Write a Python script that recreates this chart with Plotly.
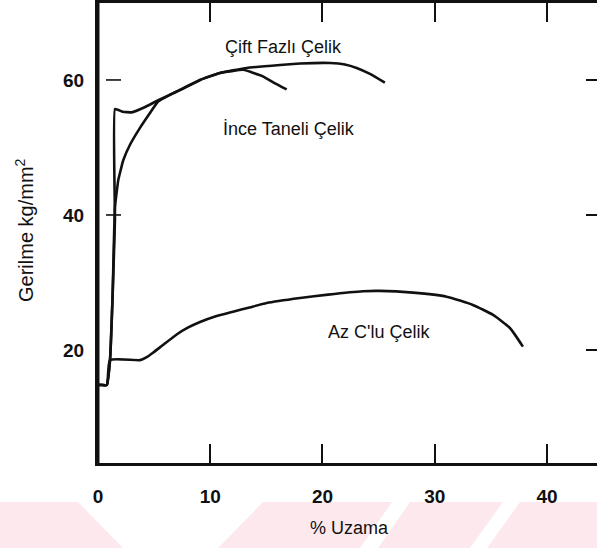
import plotly.graph_objects as go

# ---- data ----
az_x = [0, 0, 0.78, 1.07, 3.74, 4.3, 4.9, 5.79, 7.01, 8.0, 9.09, 10.5, 12.03, 13.5, 15.03,
        18.0, 20.5, 23.6, 25.1, 28.06, 31.06, 33.4, 35.2, 36.7, 37.86]
az_y = [0, 14.8, 14.8, 18.5, 18.5, 18.9, 19.6, 20.74, 22.3, 23.3, 24.15, 25.0, 25.67, 26.3, 26.96,
        27.7, 28.2, 28.7, 28.75, 28.5, 27.9, 26.67, 25.2, 23.26, 20.5]

cift_x = [0, 0, 0.78, 1.07, 1.3, 1.51, 1.51, 2.2, 3.0, 4.2, 5.37, 7.3, 9.09, 10.87, 13.25, 16.21,
          18.0, 20.67, 22.0, 23.05, 24.23, 25.56]
cift_y = [0, 14.8, 14.8, 18.5, 28, 39.3, 55.7, 55.3, 55.2, 56.0, 57.0, 58.52, 60.0, 61.04, 61.78, 62.22,
          62.44, 62.52, 62.3, 61.78, 60.89, 59.6]

ince_x = [0, 0, 0.78, 1.07, 1.3, 1.51, 1.81, 2.25, 2.85, 3.74, 4.63, 5.35, 6.41, 7.3, 9.09, 10.87,
          12.95, 14.73, 15.77, 16.81]
ince_y = [0, 14.8, 14.8, 18.5, 28, 41.2, 45.2, 48.1, 50.4, 52.9, 55.1, 56.8, 57.8, 58.5, 60.0, 61.04,
          61.5, 60.5, 59.5, 58.6]

series_names = ["Çift Fazlı Çelik", "İnce Taneli Çelik", "Az C'lu Çelik"]
label_x = [16.5, 17.0, 25.0]
label_y = [64.9, 52.7, 22.7]

x_ticks = [0, 10, 20, 30, 40]
y_ticks = [20, 40, 60]
left_tick_marks = [40, 60]
x_title = "% Uzama"
y_title = "Gerilme kg/mm<sup>2</sup>"

FONT = "Liberation Sans, Arial, Helvetica, sans-serif"
W, H = 597, 548
L, R, T, B = 98, 0, 3, 85
XR = [0, 44.46]
YR = [3.26, 71.4]

fig = go.Figure()
for xs, ys, sm in [(cift_x, cift_y, 0.3), (ince_x, ince_y, 0.3), (az_x, az_y, 0.5)]:
    fig.add_trace(go.Scatter(x=xs, y=ys, mode="lines",
                             line=dict(color="#111111", width=2.6, shape="spline", smoothing=sm),
                             showlegend=False, hoverinfo="skip"))

for name, lx, ly in zip(series_names, label_x, label_y):
    fig.add_annotation(x=lx, y=ly, text=name, showarrow=False,
                       xanchor="center", yanchor="middle",
                       font=dict(family=FONT, size=18, color="#111111"))

pw, ph = W - L - R, H - T - B
def px(xpix):
    return (xpix - L) / pw
def py(ypix):
    return (H - B - ypix) / ph

fig.add_annotation(x=px(349), y=py(528), xref="paper", yref="paper", text=x_title,
                   xanchor="center", yanchor="middle",
                   showarrow=False, font=dict(family=FONT, size=18, color="#111111"))
fig.add_annotation(x=px(24), y=py(230), xref="paper", yref="paper", text=y_title,
                   xanchor="center", yanchor="middle",
                   textangle=-90, showarrow=False,
                   font=dict(family=FONT, size=20, color="#111111"))

# left frame line (drawn explicitly so it is always on top)
fig.add_shape(type="line", xref="paper", yref="paper", x0=0, x1=0, y0=-0.003, y1=1.003,
              line=dict(color="#111111", width=3))

# inner tick marks on the left axis (only at 40 and 60 in the reference)
for v in left_tick_marks:
    fig.add_shape(type="line", xref="paper", yref="y", x0=px(106), x1=px(121), y0=v, y1=v,
                  line=dict(color="#111111", width=1.6))

# faint pink watermark at the bottom
pink = "rgba(252,226,231,0.75)"
polys = [
    [(0, 502), (78, 502), (123, 548), (0, 548)],
    [(263, 502), (392, 502), (360, 548), (218, 548)],
    [(410, 502), (503, 502), (470, 548), (378, 548)],
    [(520, 502), (597, 502), (597, 548), (487, 548)],
]
for poly in polys:
    path = "M " + " L ".join(f"{px(a):.4f},{py(b):.4f}" for a, b in poly) + " Z"
    fig.add_shape(type="path", path=path, xref="paper", yref="paper",
                  fillcolor=pink, line=dict(width=0), layer="below")

fig.update_layout(
    width=W, height=H,
    margin=dict(l=L, r=R, t=T, b=B, pad=0),
    paper_bgcolor="white", plot_bgcolor="white",
    xaxis=dict(range=XR, showgrid=False, zeroline=False,
               showline=True, linecolor="#111111", linewidth=3, mirror="ticks",
               ticks="inside", ticklen=19, tickwidth=2, tickcolor="#111111",
               tickvals=x_ticks, ticktext=[str(v) for v in x_ticks],
               tickfont=dict(family=FONT, size=19, color="#111111", weight="bold"),
               ticklabelstandoff=14),
    yaxis=dict(range=YR, showgrid=False, zeroline=False,
               showline=True, linecolor="#111111", linewidth=3,
               ticks="", tickvals=y_ticks, ticktext=[str(v) for v in y_ticks],
               tickfont=dict(family=FONT, size=19, color="#111111", weight="bold"),
               ticklabelstandoff=7),
    yaxis2=dict(range=YR, overlaying="y", side="right", showgrid=False, zeroline=False,
                showline=False, ticks="inside", ticklen=11, tickwidth=1.5,
                tickcolor="#111111", tickvals=y_ticks, showticklabels=False),
)
fig.add_trace(go.Scatter(x=[0], y=[-100], yaxis="y2", mode="lines",
                         showlegend=False, hoverinfo="skip"))

fig.write_html("out.html", config={"displayModeBar": False},
               post_script="document.body.style.margin='0';document.body.style.padding='0';")
